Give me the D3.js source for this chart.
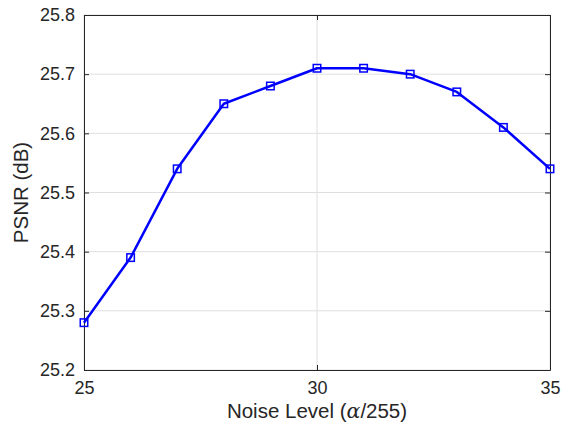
<!DOCTYPE html>
<html>
<head>
<meta charset="utf-8">
<script src="https://cdn.jsdelivr.net/npm/d3@7"></script>
<style>
  body { margin: 0; background: #fff; }
  text { font-family: "Liberation Sans", Arial, sans-serif; fill: #262626; }
</style>
</head>
<body>
<div id="chart"></div>
<script>
const noiseLevels = [25, 26, 27, 28, 29, 30, 31, 32, 33, 34, 35];
const psnr = [25.28, 25.39, 25.54, 25.65, 25.68, 25.71, 25.71, 25.70, 25.67, 25.61, 25.54];
const xTicks = [25, 30, 35];
const yTicks = [25.2, 25.3, 25.4, 25.5, 25.6, 25.7, 25.8];

const width = 564, height = 433;
const margin = { top: 15, right: 14, bottom: 63, left: 84 };
const w = width - margin.left - margin.right;
const h = height - margin.top - margin.bottom;

const svg = d3.select('#chart')
  .append('svg')
  .attr('width', width)
  .attr('height', height);

const g = svg.append('g')
  .attr('transform', 'translate(' + margin.left + ',' + margin.top + ')');

const x = d3.scaleLinear().domain([25, 35]).range([0, w]);
const y = d3.scaleLinear().domain([25.2, 25.8]).range([h, 0]);

// grid
g.selectAll('.gx').data(xTicks).enter().append('line')
  .attr('x1', d => x(d)).attr('x2', d => x(d))
  .attr('y1', 0).attr('y2', h)
  .attr('stroke', '#dfdfdf').attr('stroke-width', 1);

g.selectAll('.gy').data(yTicks).enter().append('line')
  .attr('x1', 0).attr('x2', w)
  .attr('y1', d => y(d)).attr('y2', d => y(d))
  .attr('stroke', '#dfdfdf').attr('stroke-width', 1);

// axes (ticks point inward)
const fmt = d3.format('.1f');
const axisL = g.append('g')
  .call(d3.axisLeft(y).tickValues(yTicks).tickFormat(fmt).tickSizeInner(-5).tickSizeOuter(0).tickPadding(9));
const axisR = g.append('g')
  .attr('transform', 'translate(' + w + ',0)')
  .call(d3.axisRight(y).tickValues(yTicks).tickFormat('').tickSizeInner(-5).tickSizeOuter(0));
const axisB = g.append('g')
  .attr('transform', 'translate(0,' + h + ')')
  .call(d3.axisBottom(x).tickValues(xTicks).tickFormat(d3.format('d')).tickSizeInner(-5).tickSizeOuter(0).tickPadding(11));
const axisT = g.append('g')
  .call(d3.axisTop(x).tickValues(xTicks).tickFormat('').tickSizeInner(-5).tickSizeOuter(0));

[axisL, axisR, axisB, axisT].forEach(a => {
  a.select('.domain').attr('stroke', '#262626').attr('stroke-width', 1);
  a.selectAll('.tick line').attr('stroke', '#262626');
  a.selectAll('text').attr('font-size', '18px').attr('fill', '#262626')
    .style('font-family', '"Liberation Sans", Arial, sans-serif');
});

// line
const line = d3.line()
  .x((d, i) => x(noiseLevels[i]))
  .y(d => y(d));

g.append('path')
  .datum(psnr)
  .attr('fill', 'none')
  .attr('stroke', '#0000ff')
  .attr('stroke-width', 2.5)
  .attr('stroke-linejoin', 'round')
  .attr('d', line);

// square markers
const ms = 7.5;
g.selectAll('.marker').data(psnr).enter().append('rect')
  .attr('x', (d, i) => x(noiseLevels[i]) - ms / 2)
  .attr('y', d => y(d) - ms / 2)
  .attr('width', ms).attr('height', ms)
  .attr('fill', 'none')
  .attr('stroke', '#0000ff')
  .attr('stroke-width', 1.5);

// labels
const xl = svg.append('text')
  .attr('x', margin.left + w / 2)
  .attr('y', 418)
  .attr('text-anchor', 'middle')
  .attr('font-size', '20.5px');
xl.append('tspan').text('Noise Level (');
xl.append('tspan').attr('font-family', '"DejaVu Serif", "Liberation Serif", serif').attr('font-style', 'italic').text('α');
xl.append('tspan').text('/255)');

svg.append('text')
  .attr('transform', 'translate(28,' + (margin.top + h / 2) + ') rotate(-90)')
  .attr('text-anchor', 'middle')
  .attr('font-size', '20.5px')
  .text('PSNR (dB)');
</script>
</body>
</html>
